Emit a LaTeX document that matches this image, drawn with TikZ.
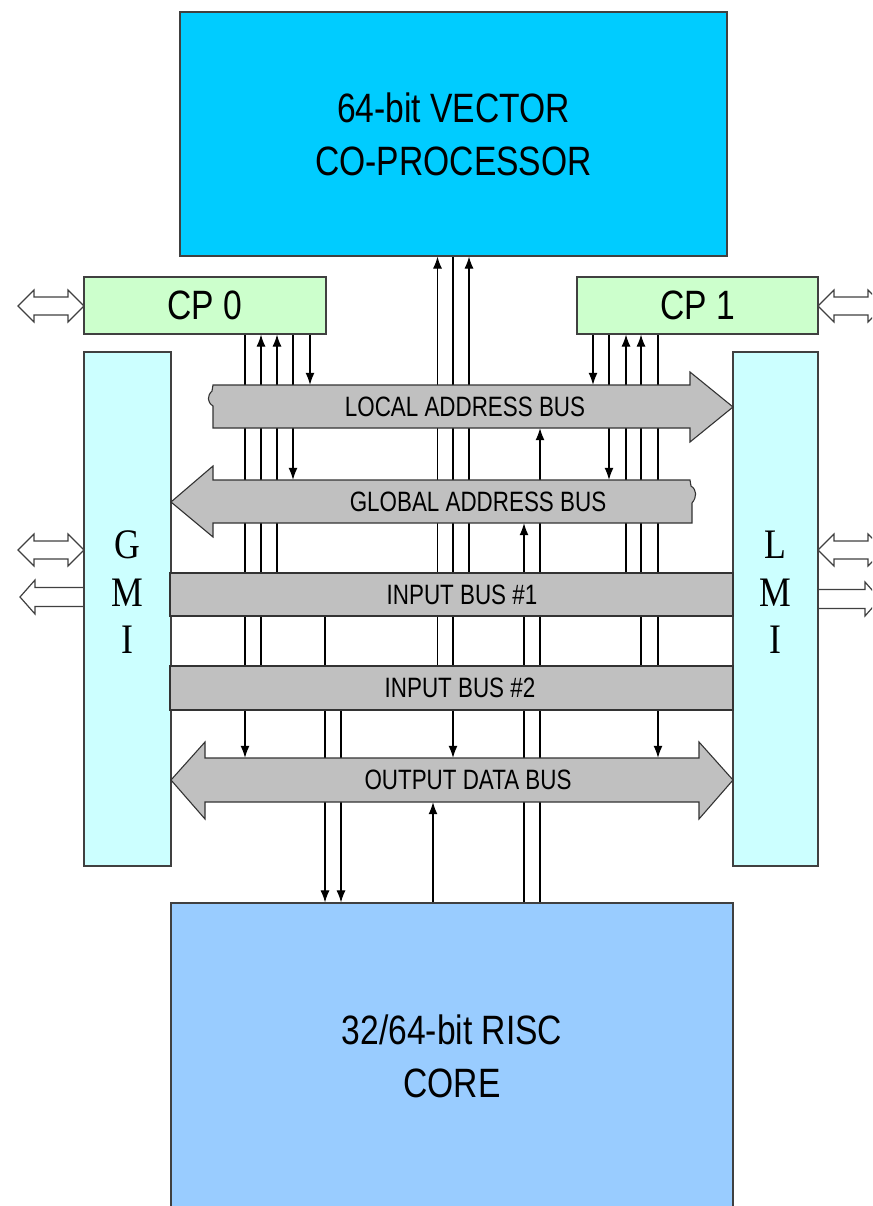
\documentclass[tikz,border=0pt]{standalone}
\usepackage{fontspec}
\setmainfont{Liberation Sans}[FakeStretch=0.82]
\newfontfamily\busfont{Liberation Sans}[FakeStretch=0.8]
\newfontfamily\mifont{Liberation Serif}[FakeStretch=0.85]
\usetikzlibrary{arrows.meta, positioning, backgrounds}

\definecolor{vecblue}{HTML}{00CCFF}
\definecolor{cpgreen}{HTML}{CCFFCC}
\definecolor{mipale}{HTML}{CCFFFF}
\definecolor{riscblue}{HTML}{99CCFF}
\definecolor{busgray}{HTML}{C0C0C0}

\tikzset{
    pics/twoway/.style={code={
        \draw[port] (0,0) -- (16,-16) -- (16,-9) -- (50,-9) -- (50,-16) -- (66,0)
            -- (50,16) -- (50,9) -- (16,9) -- (16,16) -- cycle;}},
    pics/oneway/.style={code={
        \draw[port] (0,0) -- (15,-17) -- (15,-9.5) -- (64,-9.5) -- (64,9.5)
            -- (15,9.5) -- (15,17) -- cycle;}}
}

\begin{document}
\begin{tikzpicture}[
        x=1pt, y=-1pt,
        box/.style={rectangle, draw=black!75, line width=1.2pt, inner sep=0pt, align=center, font=\fontsize{41}{53}\selectfont},
        bus/.style={fill=busgray, draw=black!80, line width=1.1pt},
        buslabel/.style={inner sep=0pt, font=\busfont\fontsize{28}{30}\selectfont},
        letters/.style={inner sep=0pt, align=center, font=\mifont\fontsize{42}{47.5}\selectfont},
        port/.style={fill=white, draw=black!75, line width=1.2pt},
        link/.style={line width=1.1pt},
        >={Latex[length=12pt,width=9pt]}
    ]

    \useasboundingbox (0,0) rectangle (872,1206);
    \clip (0,0) rectangle (872,1206);

    % ports to the outside
    \pic at (18,306) {twoway};
    \pic at (818,306) {twoway};
    \pic at (18,550) {twoway};
    \pic at (818,550) {twoway};
    \pic at (20,597) {oneway};
    \pic[xscale=-1] at (880,599) {oneway};

    % blocks
    \node (vec) [box, fill=vecblue, minimum width=547pt, minimum height=244pt] at (453.5,134) {64-bit VECTOR\\CO-PROCESSOR};
    \node (cp0) [box, fill=cpgreen, minimum width=242pt, minimum height=57pt] at (205,305.5) {CP 0};
    \node (cp1) [box, fill=cpgreen, minimum width=241pt, minimum height=57pt] at (697.5,305.5) {CP 1};
    \node (gmi) [box, fill=mipale, minimum width=87pt, minimum height=514pt] at (127.5,609) {};
    \node (lmi) [box, fill=mipale, minimum width=85pt, minimum height=514pt] at (775.5,609) {};
    \node (risc) [box, fill=riscblue, minimum width=562pt, minimum height=306pt] at (452,1056) {32/64-bit RISC\\CORE};
    \node (gmitxt) [letters] at ([yshift=16.5pt]gmi.center) {G\\M\\I};
    \node (lmitxt) [letters] at ([yshift=16.5pt]lmi.center) {L\\M\\I};

    % buses
    \filldraw[bus] (213,385) -- (690,385) -- (690,372) -- (733,407) -- (690,442) -- (690,428)
        -- (213,428) -- (213,406) .. controls (207,402) and (207,396) .. (212,391) -- cycle;
    \filldraw[bus] (171,502) -- (213,466) -- (213,480) -- (690,480) -- (691,486)
        .. controls (697,490) and (697,497) .. (692,503) -- (692,523) -- (213,523) -- (213,537) -- cycle;
    \filldraw[bus] (170,573) rectangle (733,616);
    \filldraw[bus] (170,666) rectangle (733,710);
    \filldraw[bus] (171,780) -- (205,742) -- (205,758) -- (699,758) -- (699,742) -- (733,780)
        -- (699,819) -- (699,802) -- (205,802) -- (205,819) -- cycle;

    \node (lab) [buslabel, minimum height=43pt] at (465,406.5) {LOCAL ADDRESS BUS};
    \node (gab) [buslabel, minimum height=43pt] at (478,501.5) {GLOBAL ADDRESS BUS};
    \node (ib1) [buslabel, minimum height=43pt] at (462,594.5) {INPUT BUS \#1};
    \node (ib2) [buslabel, minimum height=44pt] at (460,688) {INPUT BUS \#2};
    \node (odb) [buslabel, minimum height=44pt] at (468,780) {OUTPUT DATA BUS};

    % lanes
    \foreach \x [count=\i] in {245,261,277,293,310} \coordinate (p\i) at (\x,0);
    \foreach \x [count=\i] in {593,609,626,641,658} \coordinate (q\i) at (\x,0);
    \foreach \x [count=\i] in {437.5,453,469} \coordinate (v\i) at (\x,0);
    \foreach \x [count=\i] in {325,341,433,524,540} \coordinate (r\i) at (\x,0);

    \begin{scope}[on background layer]
        \draw[link,->] (cp0.south -| p1) -- (odb.north -| p1);
        \draw[link,->] (ib2.north -| p2) -- (cp0.south -| p2);
        \draw[link,->] (ib1.north -| p3) -- (cp0.south -| p3);
        \draw[link,->] (cp0.south -| p4) -- (gab.north -| p4);
        \draw[link,->] (cp0.south -| p5) -- (lab.north -| p5);

        \draw[link,->] (cp1.south -| q1) -- (lab.north -| q1);
        \draw[link,->] (cp1.south -| q2) -- (gab.north -| q2);
        \draw[link,->] (ib1.north -| q3) -- (cp1.south -| q3);
        \draw[link,->] (ib2.north -| q4) -- (cp1.south -| q4);
        \draw[link,->] (cp1.south -| q5) -- (odb.north -| q5);

        \draw[link,->] (ib2.north -| v1) -- (vec.south -| v1);
        \draw[link,->] (vec.south -| v2) -- (odb.north -| v2);
        \draw[link,->] (ib1.north -| v3) -- (vec.south -| v3);

        \draw[link,->] (ib1.south -| r1) -- (risc.north -| r1);
        \draw[link,->] (ib2.south -| r2) -- (risc.north -| r2);
        \draw[link,->] (risc.north -| r3) -- (odb.south -| r3);
        \draw[link,->] (risc.north -| r4) -- (gab.south -| r4);
        \draw[link,->] (risc.north -| r5) -- (lab.south -| r5);
    \end{scope}

\end{tikzpicture}
\end{document}
